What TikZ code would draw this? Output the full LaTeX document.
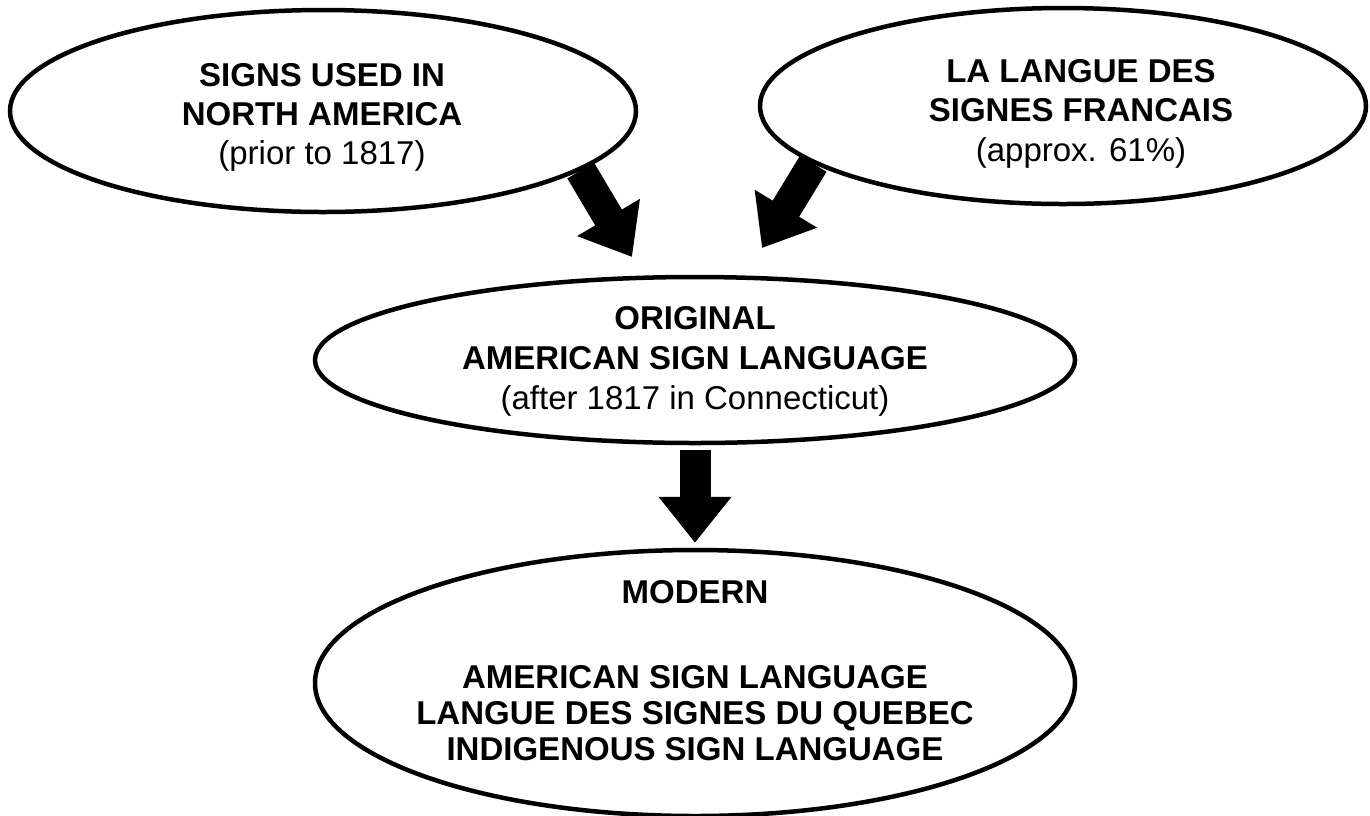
\documentclass[tikz,border=0pt]{standalone}
\usepackage{fontspec}
\setmainfont{Liberation Sans}
\usetikzlibrary{shapes.geometric,arrows.meta,backgrounds}
\tikzset{
  oval/.style={draw=black, line width=4.5pt, fill=white, ellipse, inner sep=0pt},
  head/.style={anchor=base, font=\fontsize{33}{39}\selectfont\bfseries, inner sep=0pt},
  sub/.style={anchor=base, font=\fontsize{33}{39}\selectfont, inner sep=0pt},
  bigarrow/.style={draw=black, line width=31pt, -{Triangle[length=46pt,width=70pt]}}
}
\begin{document}
\begin{tikzpicture}[x=1pt,y=-1pt]
\useasboundingbox (0,0) rectangle (1370,815);
% ellipses
\node[oval, minimum width=626pt, minimum height=202pt] (sig) at (323,111) {};
\node[oval, minimum width=606pt, minimum height=196pt] (lsf) at (1063,106) {};
\node[oval, minimum width=760pt, minimum height=166pt] (oasl) at (695,360) {};
\node[oval, minimum width=760pt, minimum height=266pt] (mod) at (695,683) {};
% texts
\node[head] (sig1) at (322,86) {SIGNS USED IN};
\node[head] (sig2) at (322,125) {NORTH AMERICA};
\node[sub]  (sig3) at (322,164) {(prior to 1817)};
\node[head] (lsf1) at (1081,82) {LA LANGUE DES};
\node[head] (lsf2) at (1081,121) {SIGNES FRANCAIS};
\node[sub]  (lsf3) at (1081,161) {(approx. 61\%)};
\node[head] (oasl1) at (695,329) {ORIGINAL};
\node[head] (oasl2) at (695,369) {AMERICAN SIGN LANGUAGE};
\node[sub]  (oasl3) at (695,409) {(after 1817 in Connecticut)};
\node[head] (mod1) at (695,603) {MODERN};
\node[head] (mod2) at (695,688) {AMERICAN SIGN LANGUAGE};
\node[head] (mod3) at (695,724) {LANGUE DES SIGNES DU QUEBEC};
\node[head] (mod4) at (695,760) {INDIGENOUS SIGN LANGUAGE};
% arrow tips
\coordinate (t1) at (632,257);
\coordinate (t2) at (762,248);
\begin{pgfonlayer}{background}
\draw[bigarrow] (sig.-13) -- (t1);
\draw[bigarrow] (lsf.193) -- (t2);
\draw[bigarrow, shorten <=5pt, shorten >=5pt] (oasl.south) -- (mod.north);
\end{pgfonlayer}
\end{tikzpicture}
\end{document}
